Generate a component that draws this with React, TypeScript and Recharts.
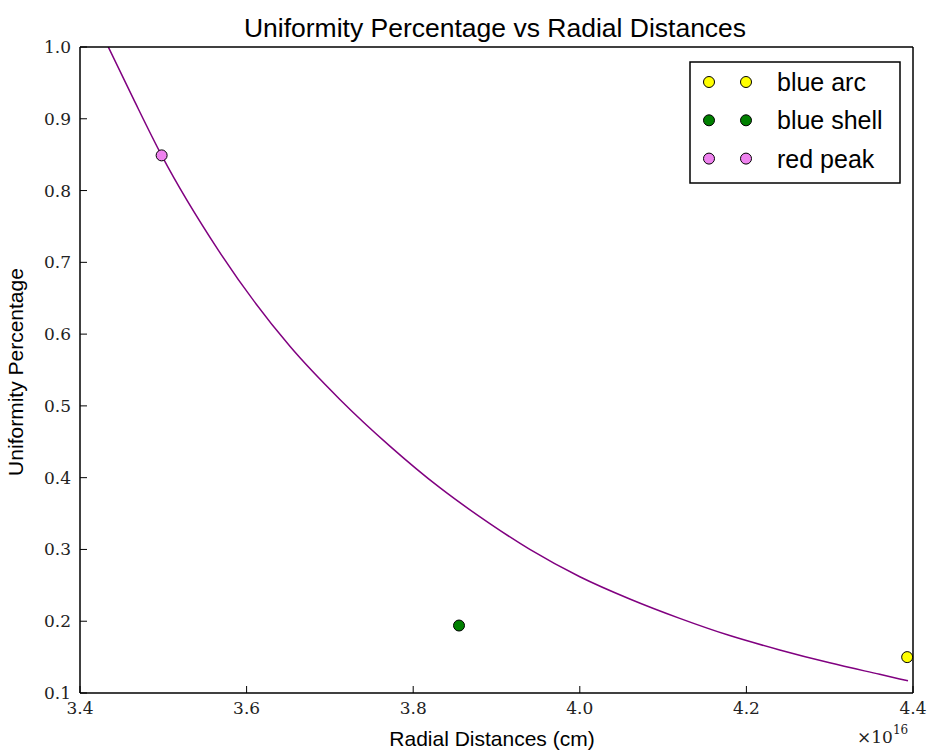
import React from "react"
import { ComposedChart, Line, Scatter, XAxis, YAxis } from "recharts"

// curve (x in units of 1e16 cm)
const curveX = [3.434, 3.464, 3.498, 3.566, 3.652, 3.712, 3.772, 3.832, 3.892, 3.94, 4.0, 4.06, 4.12, 4.18, 4.24, 4.3, 4.36, 4.394]
const curveY = [1.0, 0.928, 0.849, 0.717, 0.583, 0.509, 0.444, 0.386, 0.336, 0.3, 0.262, 0.231, 0.204, 0.18, 0.16, 0.142, 0.126, 0.117]

const seriesNames = ["blue arc", "blue shell", "red peak"]
const seriesColors = ["#ffff00", "#008000", "#ee82ee"]
const seriesX = [4.393, 3.855, 3.498]
const seriesY = [0.15, 0.194, 0.849]

const xTicks = [3.4, 3.6, 3.8, 4.0, 4.2, 4.4]
const yTicks = [0.1, 0.2, 0.3, 0.4, 0.5, 0.6, 0.7, 0.8, 0.9, 1.0]

const curveData = curveX.map((x, i) => ({ x, y: curveY[i] }))

const W = 929
const H = 751
const sans = "'Liberation Sans', Arial, sans-serif"
const serif = "'DejaVu Serif', serif"
const frame = { stroke: "#000", strokeWidth: 1.5 }
const tickStyle = { fontFamily: serif, fontSize: 17, fill: "#222" }

const Dot = (props: any) => {
  if (props.cx == null || props.cy == null) return null
  return <circle cx={props.cx} cy={props.cy} r={5.5} fill={props.fill} stroke="#000" strokeWidth={1} />
}

export default function App() {
  return (
    <div style={{ position: "absolute", left: 0, top: 0, width: W, height: H, background: "#fff" }}>
      <ComposedChart width={W} height={H} margin={{ top: 37, right: 6, bottom: 18, left: 0 }}>
        <XAxis
          dataKey="x"
          type="number"
          domain={[3.4, 4.4]}
          ticks={xTicks}
          interval={0}
          tickFormatter={(v: number) => v.toFixed(1)}
          tick={tickStyle}
          tickSize={-7}
          tickMargin={16}
          tickLine={{ stroke: "#000" }}
          axisLine={frame}
          height={40}
        />
        <XAxis
          xAxisId="top"
          orientation="top"
          type="number"
          domain={[3.4, 4.4]}
          ticks={xTicks}
          interval={0}
          tick={false}
          tickSize={-7}
          tickLine={{ stroke: "#000" }}
          axisLine={frame}
          height={10}
        />
        <YAxis
          type="number"
          domain={[0.1, 1.0]}
          ticks={yTicks}
          interval={0}
          allowDataOverflow
          tickFormatter={(v: number) => v.toFixed(1)}
          tick={tickStyle}
          tickSize={-7}
          tickMargin={16}
          tickLine={{ stroke: "#000" }}
          axisLine={frame}
          width={80}
        />
        <YAxis
          yAxisId="right"
          orientation="right"
          type="number"
          domain={[0.1, 1.0]}
          ticks={yTicks}
          interval={0}
          tick={false}
          tickSize={-7}
          tickLine={{ stroke: "#000" }}
          axisLine={frame}
          width={10}
        />
        <Line
          data={curveData}
          dataKey="y"
          type="monotone"
          stroke="#800080"
          strokeWidth={1.5}
          dot={false}
          activeDot={false}
          isAnimationActive={false}
        />
        {seriesNames.map((name, i) => (
          <Scatter
            key={name}
            name={name}
            data={[{ x: seriesX[i], y: seriesY[i] }]}
            dataKey="y"
            fill={seriesColors[i]}
            shape={Dot}
            isAnimationActive={false}
          />
        ))}
      </ComposedChart>
      <svg width={W} height={H} style={{ position: "absolute", left: 0, top: 0, pointerEvents: "none" }}>
        <text x={495} y={37} textAnchor="middle" fontFamily={sans} fontSize={26.5} fill="#000">
          Uniformity Percentage vs Radial Distances
        </text>
        <text x={492} y={746} textAnchor="middle" fontFamily={sans} fontSize={21} fill="#000">
          Radial Distances (cm)
        </text>
        <text x={23} y={372} textAnchor="middle" fontFamily={sans} fontSize={21} fill="#000" transform="rotate(-90 23 372)">
          Uniformity Percentage
        </text>
        <text x={857} y={743} fontFamily={serif} fontSize={17} fill="#222">
          ×10
          <tspan fontSize={12} dy={-9}>16</tspan>
        </text>
        <rect x={690} y={62} width={210} height={121} fill="#fff" stroke="#000" strokeWidth={1.5} />
        {seriesNames.map((name, i) => {
          const cy = 82 + i * 38.3
          return (
            <g key={name}>
              <circle cx={709} cy={cy} r={5.5} fill={seriesColors[i]} stroke="#000" strokeWidth={1} />
              <circle cx={746} cy={cy} r={5.5} fill={seriesColors[i]} stroke="#000" strokeWidth={1} />
              <text x={777} y={cy + 9} fontFamily={sans} fontSize={25} fill="#000">
                {name}
              </text>
            </g>
          )
        })}
      </svg>
    </div>
  )
}
